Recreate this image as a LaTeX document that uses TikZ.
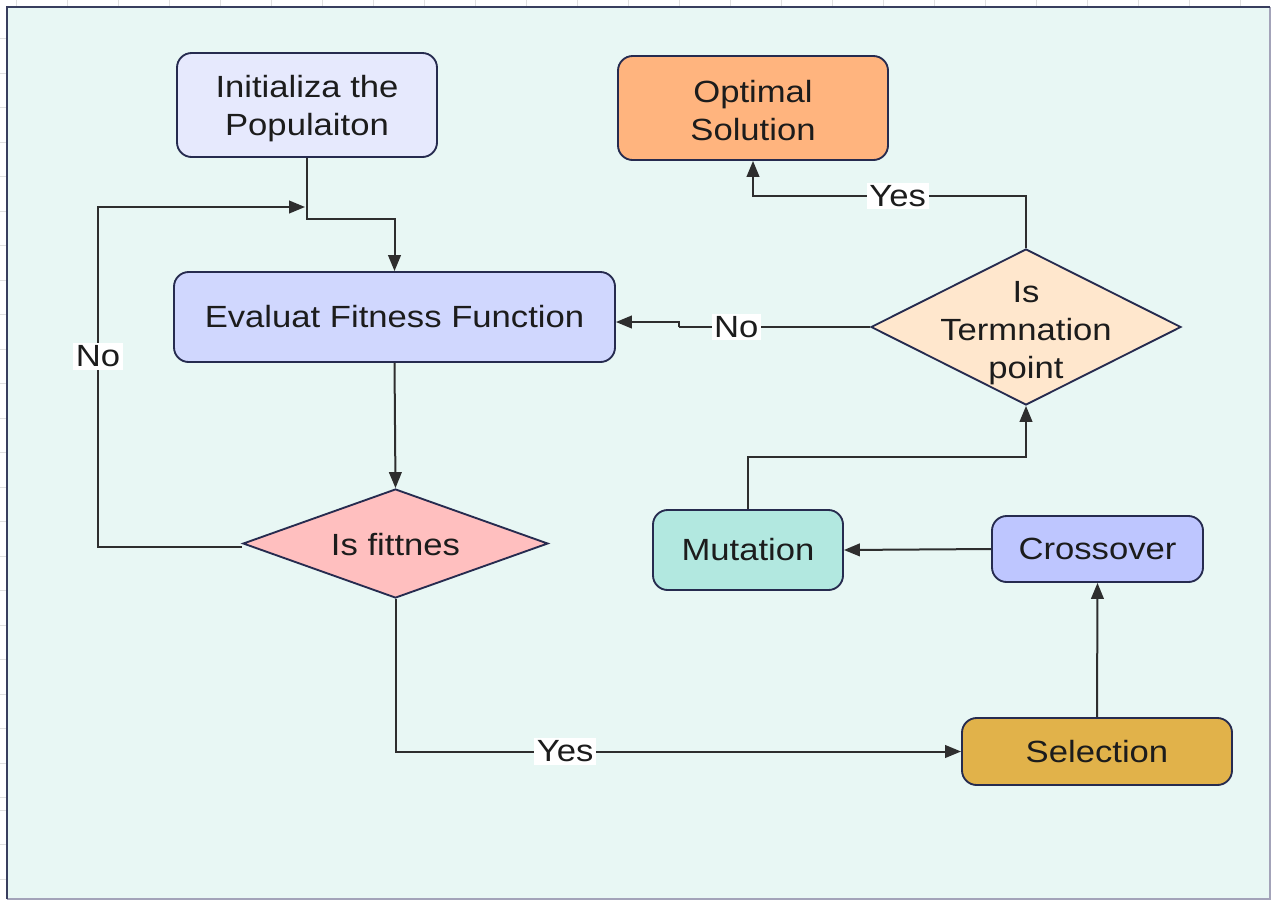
\documentclass[tikz,border=0pt]{standalone}
\usepackage{fontspec}
\setmainfont{Liberation Sans}[FakeStretch=1.13]
\usetikzlibrary{shapes.geometric,arrows.meta,calc}
\definecolor{mint}{HTML}{E8F7F4}
\definecolor{frame}{HTML}{383E5E}
\definecolor{bord}{HTML}{262B4F}
\definecolor{wire}{HTML}{2E2E2E}
\definecolor{cInit}{HTML}{E6E9FD}
\definecolor{cEval}{HTML}{D0D7FE}
\definecolor{cFit}{HTML}{FFBFBF}
\definecolor{cOpt}{HTML}{FFB47E}
\definecolor{cTerm}{HTML}{FFE7CD}
\definecolor{cMut}{HTML}{B2E8E0}
\definecolor{cCross}{HTML}{BEC6FF}
\definecolor{cSel}{HTML}{E1B24A}
\definecolor{txt}{HTML}{1C1C1C}
\begin{document}
\begin{tikzpicture}[x=0.75pt,y=-0.75pt,
  every node/.style={text=txt,font=\fontsize{23}{28.5}\selectfont},
  box/.style={draw=bord,line width=1.4pt,rounded corners=11pt,align=center,inner sep=0pt},
  dia/.style={draw=bord,line width=1.4pt,diamond,inner sep=0pt},
  arr/.style={draw=wire,line width=1.5pt,-{Triangle[length=12pt,width=9.5pt]}},
  lab/.style={fill=white,inner sep=2pt}]
\useasboundingbox (0,0) rectangle (1271,901);
% page and faint grid
\fill[white] (0,0) rectangle (1271,901);
\foreach \gx in {16,67,118,169,220,271,322,373,424,475,526,577,628,679,730,781,832,883,934,985,1036,1087,1138,1189,1240}
  \draw[black!12,line width=0.5pt] (\gx,0) -- (\gx,7);
\foreach \gy in {38,73,107,142,176,211,245,280,314,349,383,418,452,487,521,556,590,625,659,694,728,763,797,810,844,879}
  \draw[black!12,line width=0.5pt] (0,\gy) -- (7,\gy);
\fill[mint] (7,7) rectangle (1270,899);
\draw[black!30!blue!20!gray!60,line width=1pt] (7,899) -- (1270,899) -- (1270,7);
\draw[frame,line width=1.6pt] (7,899) -- (7,7) -- (1270,7);

% nodes
\node[box,fill=cInit,minimum width=195pt,minimum height=78pt] (init) at (307,105) {};
\node[align=center] at (307,109) {Initializa the\\Populaiton};
\node[box,fill=cEval,minimum width=330.75pt,minimum height=67.5pt] (eval) at (394.5,317) {Evaluat Fitness Function};
\node[dia,fill=cFit,minimum width=228.75pt,minimum height=81.75pt] (fit) at (395.5,543.5) {};
\node at (395.5,544.5) {Is fittnes};
\node[box,fill=cOpt,minimum width=202.5pt,minimum height=78pt] (opt) at (753,108) {};
\node[align=center] at (753,111) {Optimal\\Solution};
\node[dia,fill=cTerm,minimum width=232.5pt,minimum height=117pt] (term) at (1026,327) {};
\node[align=center] at (1026,333) {Is\\Termnation\\point};
\node[box,fill=cMut,minimum width=142.5pt,minimum height=60pt] (mut) at (748,550) {Mutation};
\node[box,fill=cCross,minimum width=158.25pt,minimum height=49.5pt] (cross) at (1097.5,549) {Crossover};
\node[box,fill=cSel,minimum width=202.5pt,minimum height=50.25pt] (sel) at (1097,751.5) {Selection};

\coordinate (loopin) at (305,207);
\coordinate (evin) at ($(eval.east)+(0,5)$);

% connectors
\draw[arr] (init.south) -- ++(0,61) -| (eval.north);
\draw[arr] ($(fit.west)+(0,3)$) -- ++(-144,0) |- (loopin) node[lab,pos=0.28] {No};
\draw[arr] (eval.south) -- (fit.north);
\draw[arr] (fit.south) |- (sel.west) node[lab,pos=0.65] {Yes};
\draw[arr] (sel.north) -- (cross.south);
\draw[arr] (cross.west) -- (mut.east);
\draw[arr] (mut.north) -- ++(0,-52) -| (term.south);
\draw[draw=wire,line width=1.5pt] (term.west) -- ++(-191,0) node[lab,pos=0.70] {No} coordinate (jog);
\draw[arr] (jog) -- ++(0,-5) -- (evin);
\draw[arr] (term.north) -- ++(0,-52) -| (opt.south) node[lab,pos=0.235] {Yes};
\end{tikzpicture}
\end{document}
